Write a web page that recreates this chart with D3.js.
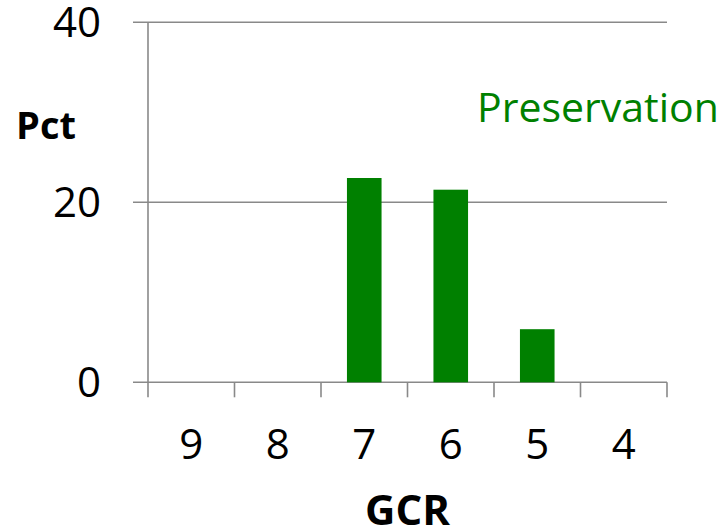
<!DOCTYPE html>
<html><head><meta charset="utf-8">
<script src="https://cdn.jsdelivr.net/npm/d3@7"></script>
<style>html,body{margin:0;padding:0;background:#fff;}svg{display:block;}</style>
</head><body>
<script>
const categories = ["9","8","7","6","5","4"];
const values = [0, 0, 22.7, 21.4, 5.9, 0];
const yTicks = [0, 20, 40];
const seriesName = "Preservation";
const xTitle = "GCR";
const yTitle = "Pct";

const W = 728, H = 532;
const font = "'Open Sans', 'Noto Sans', sans-serif";
const grid = "#898989";
const green = "#008000";

const svg = d3.select("body").append("svg").attr("width", W).attr("height", H);
const x = d3.scaleBand().domain(categories).range([148, 667]).padding(0);
const y = d3.scaleLinear().domain([0, 40]).range([382.3, 22.3]);

// gridlines + y ticks
svg.append("g").selectAll("line").data(yTicks).join("line")
  .attr("x1", 133).attr("x2", 667)
  .attr("y1", d => y(d)).attr("y2", d => y(d))
  .attr("stroke", grid).attr("stroke-width", 1.6);

// y axis line
svg.append("line").attr("x1", 148).attr("x2", 148)
  .attr("y1", y(40)).attr("y2", y(0))
  .attr("stroke", grid).attr("stroke-width", 1.6);

// x tick marks at band boundaries
const bounds = categories.map(c => x(c)).concat([x.range()[1]]);
svg.append("g").selectAll("line").data(bounds).join("line")
  .attr("x1", d => d).attr("x2", d => d)
  .attr("y1", y(0)).attr("y2", y(0) + 15)
  .attr("stroke", grid).attr("stroke-width", 1.6);

// bars
const bw = x.bandwidth() * 0.4;
svg.append("g").selectAll("rect").data(values).join("rect")
  .attr("x", (d, i) => x(categories[i]) + (x.bandwidth() - bw) / 2)
  .attr("width", bw)
  .attr("y", d => y(d))
  .attr("height", d => y(0) - y(d))
  .attr("fill", green);

// y tick labels
svg.append("g").selectAll("text").data(yTicks).join("text")
  .attr("x", 101).attr("y", d => y(d))
  .attr("dy", "0.36em")
  .attr("text-anchor", "end")
  .attr("font-family", font).attr("font-size", 42)
  .attr("fill", "#000").text(d => d);

// x tick labels
svg.append("g").selectAll("text").data(categories).join("text")
  .attr("x", d => x(d) + x.bandwidth() / 2).attr("y", 459)
  .attr("text-anchor", "middle")
  .attr("font-family", font).attr("font-size", 42)
  .attr("fill", "#000").text(d => d);

// axis titles
svg.append("text").attr("x", 46).attr("y", 139)
  .attr("text-anchor", "middle")
  .attr("font-family", font).attr("font-size", 38).attr("font-weight", "bold")
  .attr("fill", "#000").text(yTitle);
svg.append("text").attr("x", 407.5).attr("y", 525)
  .attr("text-anchor", "middle")
  .attr("font-family", font).attr("font-size", 42).attr("font-weight", "bold")
  .attr("fill", "#000").text(xTitle);

// series label
svg.append("text").attr("x", 477).attr("y", 122)
  .attr("font-family", font).attr("font-size", 41)
  .attr("fill", green).text(seriesName);
</script>
</body></html>
